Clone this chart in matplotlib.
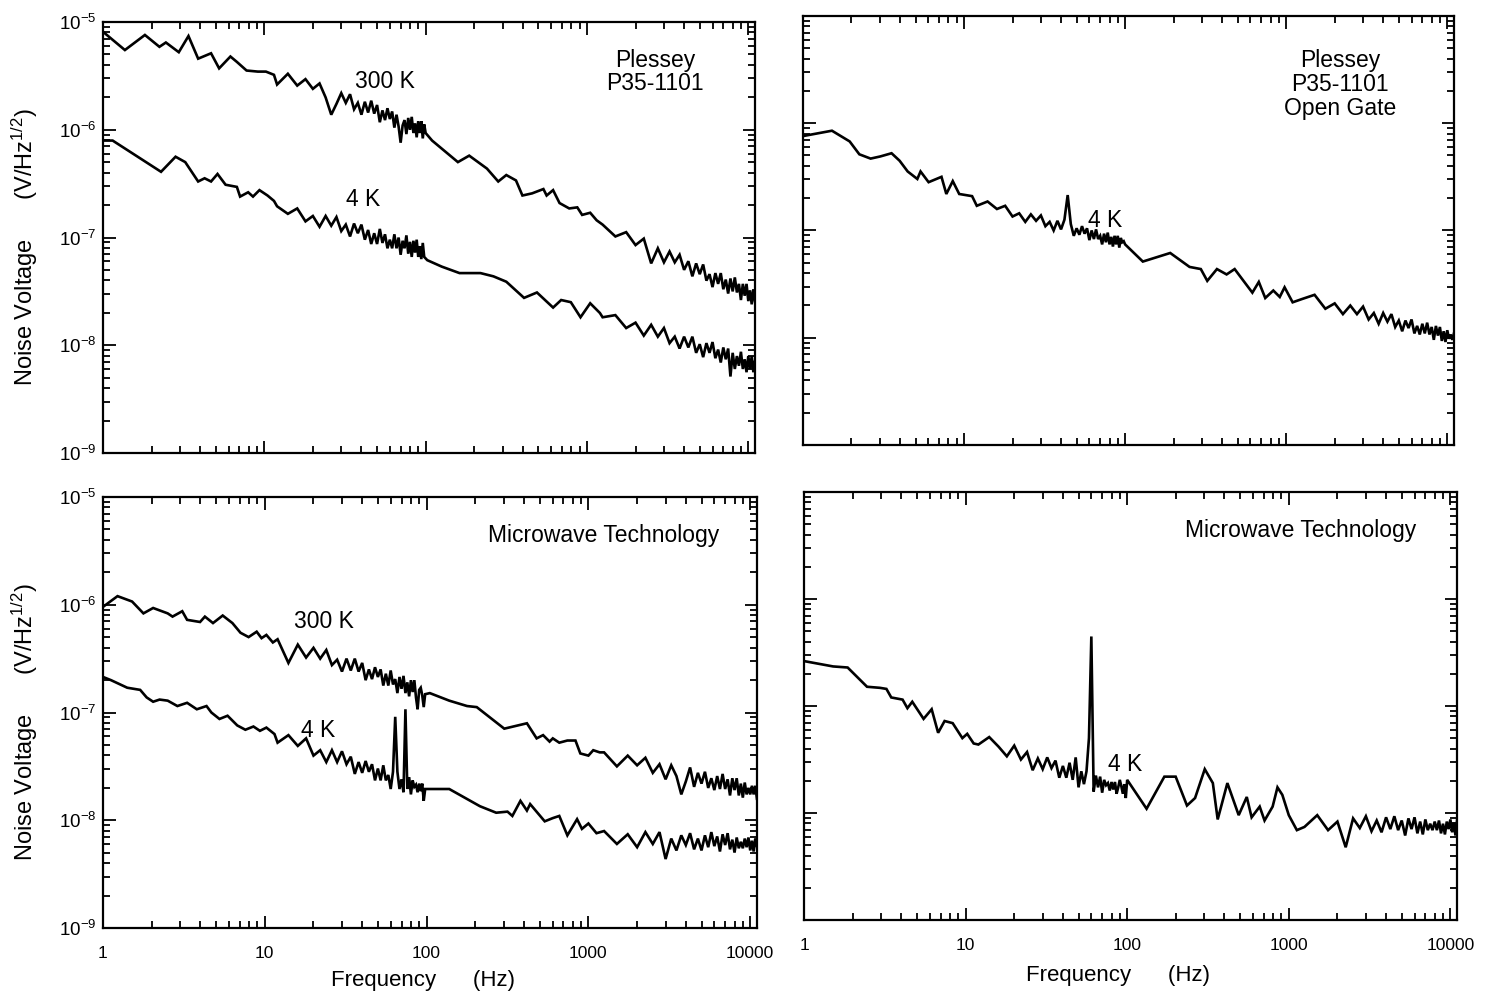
import numpy as np
import matplotlib
matplotlib.use('Agg')
import matplotlib.pyplot as plt
from matplotlib import ticker

# --- frequency grids of the dense (noisy) parts, Hz ---
LF_HZ = [12, 14, 16, 18, 20, 22, 24, 26, 28, 30, 32, 34, 36, 38, 40, 42, 44, 46, 48, 50, 52, 54,
         56, 58, 60, 62, 64, 66, 68, 70, 72, 74, 76, 78, 80, 82, 84, 86, 88, 90, 92, 94, 96, 98]
HF_HZ = [1250, 1500, 1750, 2000, 2250, 2500, 2750, 3000, 3250, 3500, 3750, 4000, 4250, 4500,
         4750, 5000, 5250, 5500, 5750, 6000, 6250, 6500, 6750, 7000, 7250, 7500, 7750, 8000,
         8250, 8500, 8750, 9000, 9250, 9500, 9750, 10000, 10250, 10500, 10750, 11000]

# values below are log10(frequency) and log10(noise voltage, V/Hz^1/2)

# Plessey P35-1101, 300 K
TL300_LOW_F = [0.0, 0.136, 0.26, 0.35, 0.39, 0.47, 0.53, 0.59, 0.67, 0.72, 0.79, 0.83, 0.89, 0.96, 1.01, 1.06]
TL300_LOW_V = [-5.09, -5.26, -5.12, -5.23, -5.19, -5.28, -5.13, -5.34, -5.29, -5.43, -5.32, -5.37, -5.45, -5.46, -5.46, -5.49]
TL300_LF = [-5.58, -5.48, -5.59, -5.53, -5.62, -5.57, -5.70, -5.86, -5.76, -5.66, -5.75, -5.67, -5.81, -5.75,
            -5.86, -5.74, -5.84, -5.73, -5.85, -5.77, -5.93, -5.82, -5.91, -5.80, -5.90, -5.83, -5.98, -5.86,
            -5.97, -6.12, -5.96, -5.91, -6.04, -5.89, -6.00, -5.88, -6.03, -5.94, -6.07, -5.92, -6.03, -5.92,
            -6.08, -5.95]
TL300_MID_F = [2.00, 2.04, 2.12, 2.20, 2.27, 2.38, 2.45, 2.50, 2.56, 2.60, 2.66, 2.73, 2.75, 2.79, 2.83, 2.89, 2.94, 2.97, 3.02, 3.06]
TL300_MID_V = [-6.03, -6.10, -6.20, -6.30, -6.24, -6.36, -6.48, -6.42, -6.47, -6.61, -6.59, -6.55, -6.61, -6.56, -6.68, -6.73, -6.72, -6.79, -6.77, -6.84]
TL300_HF = [-6.88, -6.99, -6.95, -7.07, -7.01, -7.24, -7.10, -7.23, -7.13, -7.23, -7.16, -7.30, -7.22, -7.36,
            -7.24, -7.34, -7.25, -7.40, -7.34, -7.46, -7.33, -7.43, -7.33, -7.48, -7.39, -7.52, -7.38, -7.50,
            -7.37, -7.51, -7.43, -7.58, -7.43, -7.54, -7.43, -7.59, -7.49, -7.62, -7.48, -7.59]

# Plessey P35-1101, 4 K
TL4_LOW_F = [0.0, 0.06, 0.36, 0.45, 0.51, 0.59, 0.63, 0.67, 0.71, 0.76, 0.83, 0.85, 0.90, 0.93, 0.97, 1.02, 1.06]
TL4_LOW_V = [-6.10, -6.10, -6.39, -6.25, -6.30, -6.48, -6.45, -6.48, -6.41, -6.51, -6.53, -6.62, -6.58, -6.62, -6.56, -6.61, -6.66]
TL4_LF = [-6.71, -6.78, -6.73, -6.85, -6.80, -6.90, -6.80, -6.89, -6.81, -6.94, -6.88, -6.99, -6.87, -6.96,
          -6.88, -7.02, -6.93, -7.06, -6.96, -7.06, -6.92, -7.05, -6.97, -7.10, -7.02, -7.10, -6.97, -7.10,
          -7.00, -7.16, -7.03, -7.10, -6.98, -7.15, -7.04, -7.18, -7.03, -7.14, -7.02, -7.18, -7.08, -7.20,
          -7.05, -7.18]
TL4_MID_F = [2.01, 2.10, 2.21, 2.34, 2.42, 2.50, 2.61, 2.69, 2.79, 2.84, 2.90, 2.96, 3.02, 3.08]
TL4_MID_V = [-7.21, -7.27, -7.33, -7.33, -7.36, -7.41, -7.56, -7.51, -7.65, -7.58, -7.60, -7.74, -7.61, -7.70]
TL4_HF = [-7.74, -7.72, -7.84, -7.79, -7.91, -7.81, -7.92, -7.84, -7.98, -7.92, -8.03, -7.92, -8.02, -7.92,
          -8.07, -7.99, -8.11, -7.98, -8.07, -7.97, -8.12, -8.04, -8.16, -8.02, -8.13, -8.03, -8.29, -8.07,
          -8.22, -8.10, -8.19, -8.06, -8.22, -8.13, -8.25, -8.10, -8.22, -8.10, -8.25, -8.15]

# Plessey P35-1101 open gate, 4 K
TR4_LOW_F = [0.0, 0.18, 0.29, 0.35, 0.42, 0.48, 0.55, 0.60, 0.65, 0.71, 0.73, 0.78, 0.86, 0.89, 0.93, 0.97, 1.05]
TR4_LOW_V = [-6.12, -6.07, -6.17, -6.29, -6.33, -6.31, -6.28, -6.35, -6.45, -6.52, -6.45, -6.55, -6.50, -6.66, -6.54, -6.66, -6.68]
TR4_LF = [-6.77, -6.73, -6.80, -6.77, -6.87, -6.84, -6.92, -6.85, -6.91, -6.86, -6.96, -6.92, -7.00, -6.91,
          -6.99, -6.90, -6.67, -6.94, -7.05, -6.98, -7.04, -6.96, -7.03, -6.98, -7.09, -7.00, -7.08, -6.99,
          -7.08, -7.05, -7.13, -7.03, -7.11, -7.02, -7.13, -7.06, -7.15, -7.05, -7.13, -7.05, -7.16, -7.07,
          -7.11, -7.10]
TR4_MID_F = [2.00, 2.11, 2.28, 2.40, 2.47, 2.51, 2.57, 2.63, 2.68, 2.79, 2.83, 2.87, 2.92, 2.96, 2.99, 3.04]
TR4_MID_V = [-7.13, -7.29, -7.21, -7.34, -7.36, -7.47, -7.36, -7.41, -7.36, -7.58, -7.48, -7.63, -7.56, -7.62, -7.53, -7.67]
TR4_HF = [-7.64, -7.60, -7.73, -7.68, -7.78, -7.70, -7.78, -7.71, -7.83, -7.77, -7.87, -7.77, -7.85, -7.78,
          -7.90, -7.84, -7.94, -7.84, -7.91, -7.83, -7.96, -7.89, -7.97, -7.87, -7.96, -7.86, -7.97, -7.90,
          -8.02, -7.89, -7.98, -7.90, -8.03, -7.94, -8.04, -7.93, -8.01, -7.97, -8.02, -7.96]

# Microwave Technology, 300 K
BL300_LOW_F = [0.0, 0.09, 0.18, 0.25, 0.31, 0.40, 0.43, 0.49, 0.52, 0.60, 0.63, 0.68, 0.74, 0.80, 0.85, 0.90, 0.95, 0.98, 1.01, 1.05]
BL300_LOW_V = [-6.02, -5.92, -5.97, -6.08, -6.03, -6.08, -6.11, -6.06, -6.14, -6.16, -6.11, -6.17, -6.10, -6.17, -6.26, -6.30, -6.25, -6.31, -6.28, -6.35]
BL300_LF = [-6.32, -6.54, -6.37, -6.49, -6.40, -6.50, -6.42, -6.56, -6.51, -6.62, -6.50, -6.61, -6.50, -6.62,
            -6.54, -6.70, -6.60, -6.69, -6.58, -6.67, -6.60, -6.75, -6.64, -6.75, -6.61, -6.74, -6.69, -6.82,
            -6.67, -6.78, -6.66, -6.82, -6.72, -6.85, -6.70, -6.81, -6.70, -6.86, -6.97, -6.79, -6.77, -6.84,
            -6.95, -6.83]
BL300_MID_F = [2.02, 2.14, 2.25, 2.31, 2.48, 2.62, 2.68, 2.72, 2.76, 2.78, 2.82, 2.87, 2.92, 2.95, 3.00, 3.03, 3.07]
BL300_MID_V = [-6.82, -6.89, -6.94, -6.95, -7.15, -7.10, -7.24, -7.21, -7.27, -7.24, -7.28, -7.26, -7.26, -7.38, -7.40, -7.35, -7.37]
BL300_HF = [-7.37, -7.50, -7.40, -7.49, -7.42, -7.56, -7.48, -7.62, -7.49, -7.59, -7.76, -7.64, -7.51, -7.69,
            -7.56, -7.66, -7.55, -7.70, -7.61, -7.72, -7.59, -7.71, -7.57, -7.71, -7.62, -7.77, -7.61, -7.72,
            -7.61, -7.77, -7.66, -7.79, -7.65, -7.76, -7.70, -7.76, -7.68, -7.76, -7.68, -7.80]

# Microwave Technology, 4 K (left)
BL4_LOW_F = [0.0, 0.05, 0.15, 0.23, 0.27, 0.31, 0.35, 0.40, 0.46, 0.52, 0.58, 0.64, 0.67, 0.72, 0.77, 0.83, 0.88, 0.93, 0.97, 1.01, 1.06]
BL4_LOW_V = [-6.67, -6.70, -6.77, -6.79, -6.86, -6.90, -6.88, -6.89, -6.94, -6.91, -6.97, -6.94, -7.00, -7.06, -7.03, -7.12, -7.16, -7.13, -7.17, -7.14, -7.20]
BL4_LF = [-7.28, -7.21, -7.31, -7.24, -7.40, -7.35, -7.46, -7.35, -7.46, -7.36, -7.48, -7.41, -7.57, -7.46,
          -7.56, -7.45, -7.55, -7.48, -7.63, -7.52, -7.63, -7.49, -7.63, -7.58, -7.71, -7.55, -7.04, -7.55,
          -7.71, -7.62, -7.74, -6.97, -7.71, -7.60, -7.76, -7.63, -7.69, -7.67, -7.74, -7.66, -7.73, -7.66,
          -7.82, -7.71]
BL4_MID_F = [2.02, 2.14, 2.33, 2.43, 2.50, 2.53, 2.58, 2.62, 2.64, 2.73, 2.78, 2.82, 2.87, 2.93, 2.96, 3.00, 3.05]
BL4_MID_V = [-7.71, -7.71, -7.87, -7.93, -7.92, -7.96, -7.82, -7.91, -7.85, -8.01, -7.98, -7.96, -8.14, -7.99, -8.08, -8.03, -8.12]
BL4_HF = [-8.10, -8.22, -8.13, -8.25, -8.11, -8.22, -8.11, -8.36, -8.17, -8.28, -8.14, -8.23, -8.12, -8.27,
          -8.17, -8.28, -8.14, -8.25, -8.11, -8.24, -8.15, -8.29, -8.13, -8.23, -8.12, -8.27, -8.18, -8.30,
          -8.16, -8.26, -8.20, -8.26, -8.17, -8.25, -8.16, -8.28, -8.19, -8.29, -8.17, -8.24]

# Microwave Technology, 4 K (right)
BR4_LOW_F = [0.0, 0.18, 0.27, 0.35, 0.39, 0.47, 0.51, 0.54, 0.61, 0.64, 0.67, 0.74, 0.79, 0.83, 0.87, 0.92, 0.98, 1.01, 1.05]
BR4_LOW_V = [-6.58, -6.63, -6.64, -6.76, -6.82, -6.83, -6.84, -6.92, -6.94, -7.02, -6.96, -7.12, -7.03, -7.25, -7.14, -7.16, -7.30, -7.26, -7.35]
BR4_LF = [-7.36, -7.29, -7.38, -7.47, -7.37, -7.50, -7.43, -7.60, -7.49, -7.59, -7.48, -7.58, -7.51, -7.67,
          -7.56, -7.67, -7.53, -7.69, -7.48, -7.76, -7.61, -7.73, -7.61, -7.30, -6.35, -7.80, -7.65, -7.76,
          -7.66, -7.81, -7.69, -7.74, -7.72, -7.79, -7.71, -7.78, -7.71, -7.82, -7.76, -7.69, -7.75, -7.82,
          -7.73, -7.86]
BR4_MID_F = [2.00, 2.12, 2.23, 2.30, 2.37, 2.42, 2.48, 2.53, 2.56, 2.62, 2.69, 2.74, 2.77, 2.82, 2.85, 2.90, 2.93, 2.96, 3.00, 3.05]
BR4_MID_V = [-7.69, -7.96, -7.66, -7.66, -7.93, -7.86, -7.59, -7.72, -8.06, -7.72, -8.02, -7.85, -8.04, -7.94, -8.07, -7.94, -7.76, -7.83, -8.02, -8.16]
BR4_HF = [-8.13, -8.02, -8.16, -8.08, -8.32, -8.05, -8.14, -8.03, -8.17, -8.07, -8.18, -8.04, -8.15, -8.03,
          -8.16, -8.07, -8.21, -8.05, -8.15, -8.04, -8.19, -8.08, -8.20, -8.06, -8.16, -8.10, -8.16, -8.08,
          -8.16, -8.07, -8.19, -8.10, -8.20, -8.08, -8.15, -8.06, -8.18, -8.09, -8.21, -8.07]


def spectrum(low_f, low_v, lf, mid_f, mid_v, hf):
    f = np.concatenate([10 ** np.array(low_f), LF_HZ, 10 ** np.array(mid_f), HF_HZ])
    v = 10 ** np.concatenate([low_v, lf, mid_v, hf])
    return f, v


plt.rcParams['font.family'] = ['Liberation Sans', 'DejaVu Sans']
plt.rcParams['mathtext.default'] = 'regular'
plt.rcParams['axes.unicode_minus'] = False

fig = plt.figure(figsize=(14.9, 9.97), dpi=100)

ax_tl = fig.add_axes([0.0691, 0.5456, 0.4376, 0.4323])
ax_tr = fig.add_axes([0.5389, 0.5537, 0.4369, 0.4303])
ax_bl = fig.add_axes([0.0691, 0.0692, 0.4389, 0.4323])
ax_br = fig.add_axes([0.5396, 0.0772, 0.4383, 0.4293])

curves = {
    ax_tl: [(TL300_LOW_F, TL300_LOW_V, TL300_LF, TL300_MID_F, TL300_MID_V, TL300_HF),
            (TL4_LOW_F, TL4_LOW_V, TL4_LF, TL4_MID_F, TL4_MID_V, TL4_HF)],
    ax_tr: [(TR4_LOW_F, TR4_LOW_V, TR4_LF, TR4_MID_F, TR4_MID_V, TR4_HF)],
    ax_bl: [(BL300_LOW_F, BL300_LOW_V, BL300_LF, BL300_MID_F, BL300_MID_V, BL300_HF),
            (BL4_LOW_F, BL4_LOW_V, BL4_LF, BL4_MID_F, BL4_MID_V, BL4_HF)],
    ax_br: [(BR4_LOW_F, BR4_LOW_V, BR4_LF, BR4_MID_F, BR4_MID_V, BR4_HF)],
}

for ax, cs in curves.items():
    for c in cs:
        f, v = spectrum(*c)
        ax.plot(f, v, color='black', lw=1.9, solid_joinstyle='miter')
    ax.set_xscale('log')
    ax.set_yscale('log')
    ax.set_xlim(1, 11000)
    ax.set_ylim(1e-9, 1e-5)
    ax.tick_params(which='both', direction='in', top=True, right=True, width=1.3)
    ax.tick_params(which='major', length=9)
    ax.tick_params(which='minor', length=5)
    ax.tick_params(axis='x', pad=13, labelsize=12.5)
    ax.tick_params(axis='y', pad=5, labelsize=13.5)
    ax.xaxis.set_major_formatter(ticker.FuncFormatter(lambda x, p: f'{x:g}'))
    ax.yaxis.set_major_formatter(ticker.LogFormatterSciNotation())
    for s in ax.spines.values():
        s.set_linewidth(1.6)

# labels only on the outer sides
ax_tl.tick_params(labelbottom=False)
ax_tr.tick_params(labelbottom=False, labelleft=False)
ax_br.tick_params(labelleft=False)

ylab = 'Noise Voltage      (V/Hz$^{1/2}$)'
for ax in (ax_tl, ax_bl):
    ax.set_ylabel(ylab, fontsize=17)
    ax.yaxis.set_label_coords(-0.097, 0.478)

for ax in (ax_bl, ax_br):
    ax.set_xlabel('Frequency      (Hz)', fontsize=16)
ax_bl.xaxis.set_label_coords(0.489, -0.097)
ax_br.xaxis.set_label_coords(0.481, -0.105)

fs = 16.5
ax_tl.text(0.432, 0.863, '300 K', transform=ax_tl.transAxes, fontsize=fs, ha='center', va='center')
ax_tl.text(0.399, 0.589, '4 K', transform=ax_tl.transAxes, fontsize=fs, ha='center', va='center')
ax_tl.text(0.847, 0.884, 'Plessey\nP35-1101', transform=ax_tl.transAxes, fontsize=fs,
           ha='center', va='center', linespacing=1.05)

ax_tr.text(0.825, 0.841, 'Plessey\nP35-1101\nOpen Gate', transform=ax_tr.transAxes, fontsize=fs,
           ha='center', va='center', linespacing=1.05)
ax_tr.text(0.464, 0.524, '4 K', transform=ax_tr.transAxes, fontsize=fs, ha='center', va='center')

ax_bl.text(0.765, 0.910, 'Microwave Technology', transform=ax_bl.transAxes, fontsize=fs, ha='center', va='center')
ax_bl.text(0.338, 0.710, '300 K', transform=ax_bl.transAxes, fontsize=fs, ha='center', va='center')
ax_bl.text(0.329, 0.459, '4 K', transform=ax_bl.transAxes, fontsize=fs, ha='center', va='center')

ax_br.text(0.760, 0.909, 'Microwave Technology', transform=ax_br.transAxes, fontsize=fs, ha='center', va='center')
ax_br.text(0.492, 0.364, '4 K', transform=ax_br.transAxes, fontsize=fs, ha='center', va='center')

fig.savefig('out.png', dpi=100)
